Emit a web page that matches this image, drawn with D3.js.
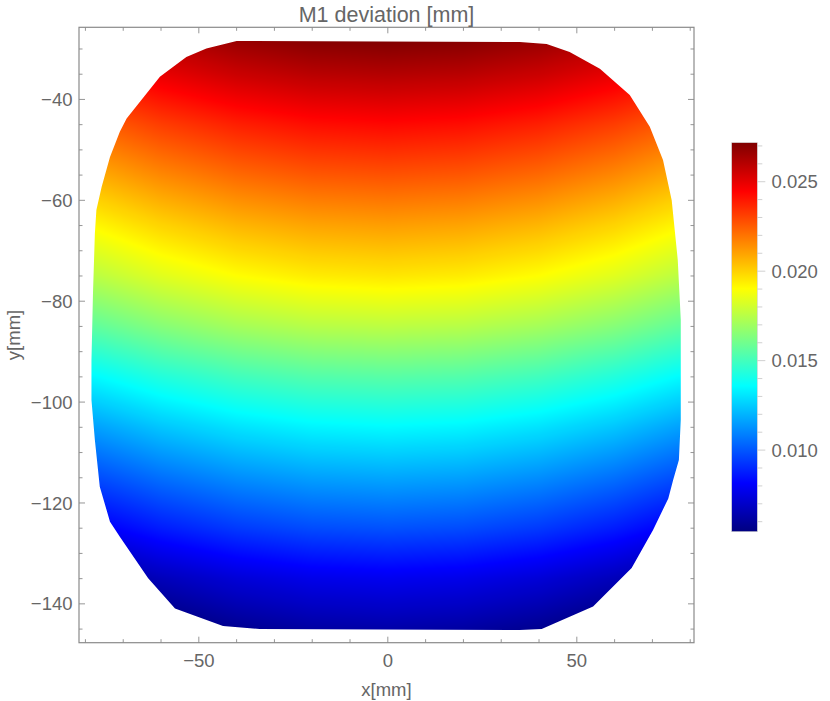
<!DOCTYPE html>
<html>
<head>
<meta charset="utf-8">
<script src="https://cdn.jsdelivr.net/npm/d3@7"></script>
<style>
  html, body { margin: 0; padding: 0; background: #fff; }
  svg { display: block; }
  text { font-family: "Liberation Sans", Arial, sans-serif; fill: #666; }
</style>
</head>
<body>
<svg id="chart" width="830" height="701"></svg>
<script>
// ---------------- data ----------------
const TITLE = "M1 deviation [mm]";
const X_LABEL = "x[mm]";
const Y_LABEL = "y[mm]";

// sample grid (mm)
const X_GRID = [-80, -60, -40, -20, 0, 20, 40, 60, 80];
const Y_GRID = [-25, -35, -45, -55, -65, -75, -85, -95, -105, -115, -125, -135, -145];

// deviation values [mm], one row per Y_GRID entry, one column per X_GRID entry
const DEVIATION = [
  [0.02566, 0.02656, 0.02721, 0.02760, 0.02772, 0.02760, 0.02721, 0.02656, 0.02566],
  [0.02403, 0.02493, 0.02558, 0.02597, 0.02609, 0.02597, 0.02558, 0.02493, 0.02403],
  [0.02225, 0.02315, 0.02379, 0.02418, 0.02431, 0.02418, 0.02379, 0.02315, 0.02225],
  [0.02066, 0.02156, 0.02221, 0.02260, 0.02272, 0.02260, 0.02221, 0.02156, 0.02066],
  [0.01903, 0.01993, 0.02058, 0.02096, 0.02109, 0.02096, 0.02058, 0.01993, 0.01903],
  [0.01746, 0.01837, 0.01901, 0.01940, 0.01953, 0.01940, 0.01901, 0.01837, 0.01746],
  [0.01555, 0.01645, 0.01710, 0.01749, 0.01761, 0.01749, 0.01710, 0.01645, 0.01555],
  [0.01342, 0.01432, 0.01497, 0.01536, 0.01548, 0.01536, 0.01497, 0.01432, 0.01342],
  [0.01146, 0.01237, 0.01301, 0.01340, 0.01353, 0.01340, 0.01301, 0.01237, 0.01146],
  [0.00964, 0.01054, 0.01118, 0.01157, 0.01170, 0.01157, 0.01118, 0.01054, 0.00964],
  [0.00783, 0.00874, 0.00938, 0.00977, 0.00990, 0.00977, 0.00938, 0.00874, 0.00783],
  [0.00577, 0.00667, 0.00731, 0.00770, 0.00783, 0.00770, 0.00731, 0.00667, 0.00577],
  [0.00424, 0.00515, 0.00579, 0.00618, 0.00631, 0.00618, 0.00579, 0.00515, 0.00424]
];

// outline of the measured mirror region [mm]
const BOUNDARY_X = [-40.0, -48.0, -53.3, -60.3, -69.1, -70.9, -73.5, -75.7, -77.1, -77.5, -78.0, -78.4,
  -78.4, -77.5, -76.2, -73.5, -70.9, -63.4, -56.3, -43.6, -33.9, 34.9, 40.7, 54.3, 64.5, 70.2, 74.2,
  75.5, 77.0, 77.5, 77.5, 76.7, 75.1, 72.8, 69.3, 64.0, 56.1, 48.1, 42.0, 34.9];
const BOUNDARY_Y = [-28.4, -29.9, -31.6, -35.5, -43.8, -46.4, -51.4, -57.3, -61.9, -66.6, -78.4, -91.7,
  -99.6, -107.5, -116.8, -123.7, -126.7, -134.9, -140.9, -144.4, -145.0, -145.2, -145.0, -140.5, -132.9,
  -125.3, -119.1, -115.4, -111.5, -103.5, -83.7, -71.8, -60.0, -52.0, -45.4, -39.1, -33.9, -30.6, -29.0, -28.6];

const X_DOMAIN = [-81.7, 81.0];
const Y_DOMAIN = [-147.7, -25.7];
const X_MAJOR = [-50, 0, 50];
const X_MINOR = [-80, -70, -60, -40, -30, -20, -10, 10, 20, 30, 40, 60, 70, 80];
const Y_MAJOR = [-140, -120, -100, -80, -60, -40];
const Y_MINOR = [-145, -135, -130, -125, -115, -110, -105, -95, -90, -85, -75, -70, -65, -55, -50, -45, -35, -30];

const COLOR_MIN = 0.00544, COLOR_MAX = 0.02718;
const CB_MAJOR = [0.010, 0.015, 0.020, 0.025];
const CB_MINOR = [0.006, 0.007, 0.008, 0.009, 0.011, 0.012, 0.013, 0.014, 0.016, 0.017, 0.018, 0.019,
  0.021, 0.022, 0.023, 0.024, 0.026, 0.027];

// jet colour map
const JET_POS = [0, 0.125, 0.375, 0.625, 0.875, 1];
const JET_COL = ["#000080", "#0000ff", "#00ffff", "#ffff00", "#ff0000", "#800000"];

// ---------------- layout ----------------
const L = 79, T = 27.3, W = 615, H = 615.4;
const CB = { x: 731.7, y: 142.7, w: 25.6, h: 389 };
const FRAME = "#8a8a8a";

const svg = d3.select("#chart");
const x = d3.scaleLinear().domain(X_DOMAIN).range([L, L + W]);
const y = d3.scaleLinear().domain(Y_DOMAIN).range([T + H, T]);

const jet = d3.scaleLinear()
  .domain(JET_POS.map(p => COLOR_MIN + p * (COLOR_MAX - COLOR_MIN)))
  .range(JET_COL)
  .interpolate(d3.interpolateRgb)
  .clamp(true);

// lookup table
const LUT_N = 1024;
const lut = d3.range(LUT_N).map(i => d3.rgb(jet(COLOR_MIN + (i / (LUT_N - 1)) * (COLOR_MAX - COLOR_MIN))));
const toIndex = d3.scaleLinear().domain([COLOR_MIN, COLOR_MAX]).range([0, LUT_N - 1]).clamp(true);

const gx = d3.scaleLinear().domain([X_GRID[0], X_GRID[X_GRID.length - 1]]).range([0, X_GRID.length - 1]).clamp(true);
const gy = d3.scaleLinear().domain([Y_GRID[0], Y_GRID[Y_GRID.length - 1]]).range([0, Y_GRID.length - 1]).clamp(true);

function valueAt(dx, dy) {
  const fi = gx(dx), fj = gy(dy);
  const i0 = Math.min(Math.floor(fi), X_GRID.length - 2), j0 = Math.min(Math.floor(fj), Y_GRID.length - 2);
  const u = fi - i0, v = fj - j0;
  const a = DEVIATION[j0][i0], b = DEVIATION[j0][i0 + 1];
  const c = DEVIATION[j0 + 1][i0], d = DEVIATION[j0 + 1][i0 + 1];
  return (a * (1 - u) + b * u) * (1 - v) + (c * (1 - u) + d * u) * v;
}

// raster of the field
const cw = Math.round(W), ch = Math.round(H);
const canvas = document.createElement("canvas");
canvas.width = cw; canvas.height = ch;
const ctx = canvas.getContext("2d");
const img = ctx.createImageData(cw, ch);
for (let j = 0; j < ch; j++) {
  const dy = y.invert(T + j + 0.5);
  for (let i = 0; i < cw; i++) {
    const dx = x.invert(L + i + 0.5);
    const col = lut[Math.round(toIndex(valueAt(dx, dy)))];
    const k = (j * cw + i) * 4;
    img.data[k] = col.r; img.data[k + 1] = col.g; img.data[k + 2] = col.b; img.data[k + 3] = 255;
  }
}
ctx.putImageData(img, 0, 0);

const defs = svg.append("defs");
const boundary = BOUNDARY_X.map((bx, i) => [bx, BOUNDARY_Y[i]]);
const outline = d3.line().x(d => x(d[0])).y(d => y(d[1]));
defs.append("clipPath").attr("id", "shape")
  .append("path").attr("d", outline(boundary) + "Z");

svg.append("image")
  .attr("x", L).attr("y", T).attr("width", cw).attr("height", ch)
  .attr("preserveAspectRatio", "none")
  .attr("href", canvas.toDataURL())
  .attr("clip-path", "url(#shape)");

// frame
svg.append("rect").attr("x", L).attr("y", T).attr("width", W).attr("height", H)
  .attr("fill", "none").attr("stroke", FRAME).attr("stroke-width", 1.2);

const ticks = svg.append("g").attr("stroke", FRAME).attr("stroke-width", 0.9);
function xt(vals, len) {
  vals.forEach(v => {
    ticks.append("line").attr("x1", x(v)).attr("x2", x(v)).attr("y1", T + H).attr("y2", T + H - len);
    ticks.append("line").attr("x1", x(v)).attr("x2", x(v)).attr("y1", T).attr("y2", T + len);
  });
}
function yt(vals, len) {
  vals.forEach(v => {
    ticks.append("line").attr("y1", y(v)).attr("y2", y(v)).attr("x1", L).attr("x2", L + len);
    ticks.append("line").attr("y1", y(v)).attr("y2", y(v)).attr("x1", L + W).attr("x2", L + W - len);
  });
}
xt(X_MAJOR, 6); xt(X_MINOR, 3.5);
yt(Y_MAJOR, 6); yt(Y_MINOR, 3.5);

const fmt = v => (v < 0 ? "\u2212" : "") + Math.abs(v);
svg.append("g").selectAll("text").data(X_MAJOR).join("text")
  .attr("x", d => x(d)).attr("y", 667).attr("text-anchor", "middle")
  .attr("font-size", 18.5).text(fmt);
svg.append("g").selectAll("text").data(Y_MAJOR).join("text")
  .attr("x", 72.5).attr("y", d => y(d) + 6.6).attr("text-anchor", "end")
  .attr("font-size", 18.5).text(fmt);

svg.append("text").attr("x", L + W / 2).attr("y", 696).attr("text-anchor", "middle")
  .attr("font-size", 18.5).text(X_LABEL);
svg.append("text").attr("transform", `translate(20,${T + H / 2}) rotate(-90)`)
  .attr("text-anchor", "middle").attr("font-size", 18.5).text(Y_LABEL);
svg.append("text").attr("x", L + W / 2).attr("y", 22).attr("text-anchor", "middle")
  .attr("font-size", 21.5).text(TITLE);

// colour bar
const cbScale = d3.scaleLinear().domain([COLOR_MIN, COLOR_MAX]).range([CB.y + CB.h, CB.y]);
const grad = defs.append("linearGradient").attr("id", "jetgrad")
  .attr("x1", 0).attr("y1", 1).attr("x2", 0).attr("y2", 0);
grad.selectAll("stop").data(JET_POS).join("stop")
  .attr("offset", d => d).attr("stop-color", (d, i) => JET_COL[i]);
svg.append("rect").attr("x", CB.x).attr("y", CB.y).attr("width", CB.w).attr("height", CB.h)
  .attr("fill", "url(#jetgrad)").attr("stroke", "#d0d0d0").attr("stroke-width", 0.6);

const cbt = svg.append("g").attr("stroke", "#c4c4c4").attr("stroke-width", 0.8);
CB_MINOR.forEach(v => cbt.append("line").attr("x1", CB.x + CB.w).attr("x2", CB.x + CB.w + 5)
  .attr("y1", cbScale(v)).attr("y2", cbScale(v)));
CB_MAJOR.forEach(v => cbt.append("line").attr("x1", CB.x + CB.w).attr("x2", CB.x + CB.w + 8)
  .attr("y1", cbScale(v)).attr("y2", cbScale(v)));
svg.append("g").selectAll("text").data(CB_MAJOR).join("text")
  .attr("x", 771.5).attr("y", d => cbScale(d) + 6.6)
  .attr("font-size", 18.5).text(d => d3.format(".3f")(d));
</script>
</body>
</html>
